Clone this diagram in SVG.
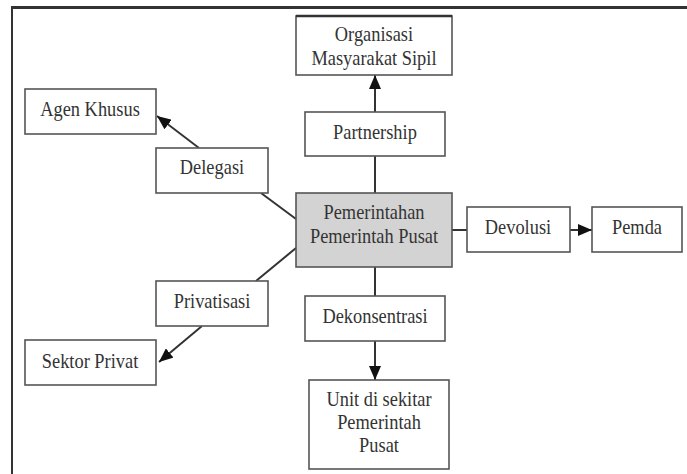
<svg xmlns="http://www.w3.org/2000/svg" width="687" height="474" viewBox="0 0 687 474">
<defs>
<style>
.box{fill:#fff;stroke:#555;stroke-width:1.6}
.main{fill:#d3d3d3;stroke:#555;stroke-width:1.6}
.t{font-family:"Liberation Serif","Times New Roman",serif;font-size:20px;fill:#333;text-anchor:middle;transform-box:fill-box;transform-origin:center;transform:scaleX(0.92)}
.ln{stroke:#333;stroke-width:2;fill:none}
.frame{stroke:#333;fill:none}
</style>
<marker id="ah" viewBox="0 0 14 12" refX="14" refY="6" markerWidth="14" markerHeight="12" markerUnits="userSpaceOnUse" orient="auto">
<path d="M0,0 L14,6 L0,12 z" fill="#111"/>
</marker>
</defs>
<rect width="687" height="474" fill="#fff"/>
<g id="frame">
<line class="frame" x1="11" y1="7.5" x2="687" y2="7.5" stroke-width="3"/>
<line class="frame" x1="12" y1="6" x2="12" y2="474" stroke-width="2"/>
</g>
<g id="connectors">
<line class="ln" x1="375" y1="112" x2="375" y2="75" marker-end="url(#ah)"/>
<line class="ln" x1="199" y1="148" x2="157" y2="116" marker-end="url(#ah)"/>
<line class="ln" x1="570" y1="230" x2="592" y2="230" marker-end="url(#ah)"/>
<line class="ln" x1="202" y1="326" x2="159" y2="362" marker-end="url(#ah)"/>
<line class="ln" x1="375" y1="341" x2="375" y2="380" marker-end="url(#ah)"/>
<line class="ln" x1="375" y1="156" x2="375" y2="193"/>
<line class="ln" x1="261" y1="193" x2="296" y2="219"/>
<line class="ln" x1="296" y1="248" x2="256" y2="281"/>
<line class="ln" x1="452" y1="230" x2="467" y2="230"/>
<line class="ln" x1="375" y1="267" x2="375" y2="296"/>
</g>
<g id="organisasi">
<rect class="box" x="296" y="16" width="156" height="59"/>
<line x1="296" y1="16" x2="452" y2="16" stroke="#333" stroke-width="2.5"/>
<text class="t" x="374" y="41">Organisasi</text>
<text class="t" x="374" y="65">Masyarakat Sipil</text>
</g>
<g id="agen">
<rect class="box" x="25" y="89" width="131" height="45"/>
<text class="t" x="90" y="116">Agen Khusus</text>
</g>
<g id="partnership">
<rect class="box" x="305" y="112" width="140" height="44"/>
<text class="t" x="375" y="139">Partnership</text>
</g>
<g id="delegasi">
<rect class="box" x="156" y="148" width="112" height="45"/>
<text class="t" x="212" y="174">Delegasi</text>
</g>
<g id="pusat">
<rect class="main" x="296" y="193" width="156" height="74"/>
<text class="t" x="374" y="219">Pemerintahan</text>
<text class="t" x="374" y="243">Pemerintah Pusat</text>
</g>
<g id="devolusi">
<rect class="box" x="467" y="207" width="103" height="45"/>
<text class="t" x="518" y="234">Devolusi</text>
</g>
<g id="pemda">
<rect class="box" x="592" y="207" width="90" height="45"/>
<text class="t" x="637" y="234">Pemda</text>
</g>
<g id="privatisasi">
<rect class="box" x="156" y="281" width="112" height="45"/>
<text class="t" x="212" y="308">Privatisasi</text>
</g>
<g id="dekonsentrasi">
<rect class="box" x="305" y="296" width="140" height="45"/>
<text class="t" x="375" y="323">Dekonsentrasi</text>
</g>
<g id="sektor">
<rect class="box" x="25" y="340" width="131" height="45"/>
<text class="t" x="90" y="368">Sektor Privat</text>
</g>
<g id="unit">
<rect class="box" x="309" y="380" width="140" height="89"/>
<text class="t" x="379" y="406">Unit di sekitar</text>
<text class="t" x="379" y="429">Pemerintah</text>
<text class="t" x="379" y="452">Pusat</text>
</g>
</svg>
